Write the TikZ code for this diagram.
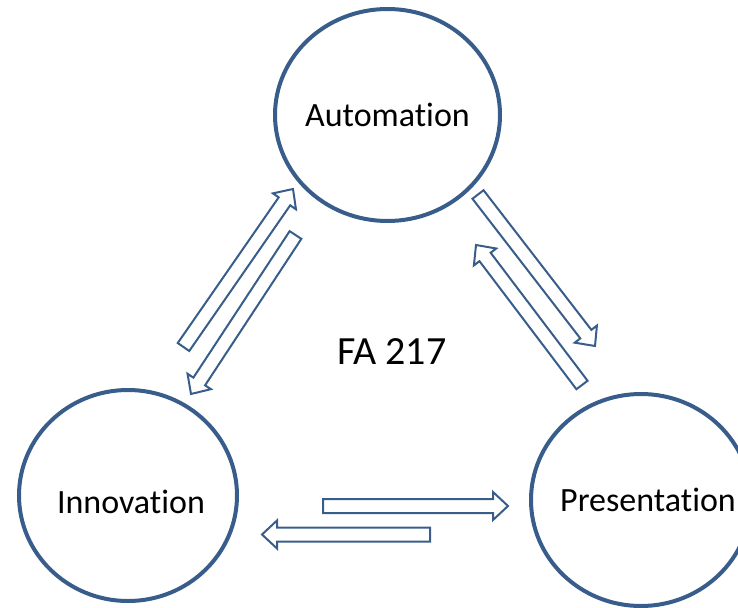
\documentclass[tikz,border=0pt]{standalone}
\usepackage{fontspec}
\setmainfont{Carlito}[Ligatures=NoCommon]
\usetikzlibrary{calc,shapes.geometric}
\definecolor{cblue}{RGB}{56,93,138}
\tikzset{
  circ/.style={draw=cblue, line width=4pt, ellipse, inner sep=0pt, font=\fontsize{34}{40}\selectfont},
  arrowline/.style={draw=cblue, line width=2pt, line join=miter},
  title/.style={font=\fontsize{40}{48}\selectfont, inner sep=0pt}
}
\newcommand{\blockarr}[2]{%
  \coordinate (#1h) at ($(#2)!15pt!(#1)$);
  \draw[arrowline] ($(#1)!7pt!90:(#2)$) -- ($(#1h)!7pt!90:(#2)$) -- ($(#1h)!14pt!90:(#2)$) -- (#2)
    -- ($(#1h)!14pt!-90:(#2)$) -- ($(#1h)!7pt!-90:(#2)$) -- ($(#1)!7pt!-90:(#2)$) -- cycle;
}
\begin{document}
\begin{tikzpicture}[x=1pt,y=-1pt]
\useasboundingbox (0,0) rectangle (738,607);
\node[circ, minimum width=225pt, minimum height=212pt] (auto) at (387.5,115) {\makebox[0pt][c]{Automat\kern0pt ion}};
\node[circ, minimum width=218pt, minimum height=211pt, text height=35pt, text depth=0pt] (innov) at (128,495.5) {\makebox[0pt][c]{\hspace*{6pt}Innovat\kern0pt ion}};
\node[circ, minimum width=220pt, minimum height=212pt] (pres) at (641,500) {\makebox[0pt][c]{\hspace*{14pt}Presentat\kern0pt ion}};
\node[title] (fa) at (392,351.5) {FA 217};
% block arrows: tail, tip
\coordinate (a1t) at (183.5,347); \coordinate (a1p) at (293,189);
\coordinate (a2t) at (295.5,235); \coordinate (a2p) at (191,394);
\coordinate (a3t) at (478,194.5); \coordinate (a3p) at (595,346);
\coordinate (a4t) at (582,385);   \coordinate (a4p) at (476,245);
\coordinate (a5t) at (323,506);   \coordinate (a5p) at (508,506);
\coordinate (a6t) at (430,534.5); \coordinate (a6p) at (262,534.5);
\blockarr{a1t}{a1p}
\blockarr{a2t}{a2p}
\blockarr{a3t}{a3p}
\blockarr{a4t}{a4p}
\blockarr{a5t}{a5p}
\blockarr{a6t}{a6p}
\end{tikzpicture}
\end{document}
